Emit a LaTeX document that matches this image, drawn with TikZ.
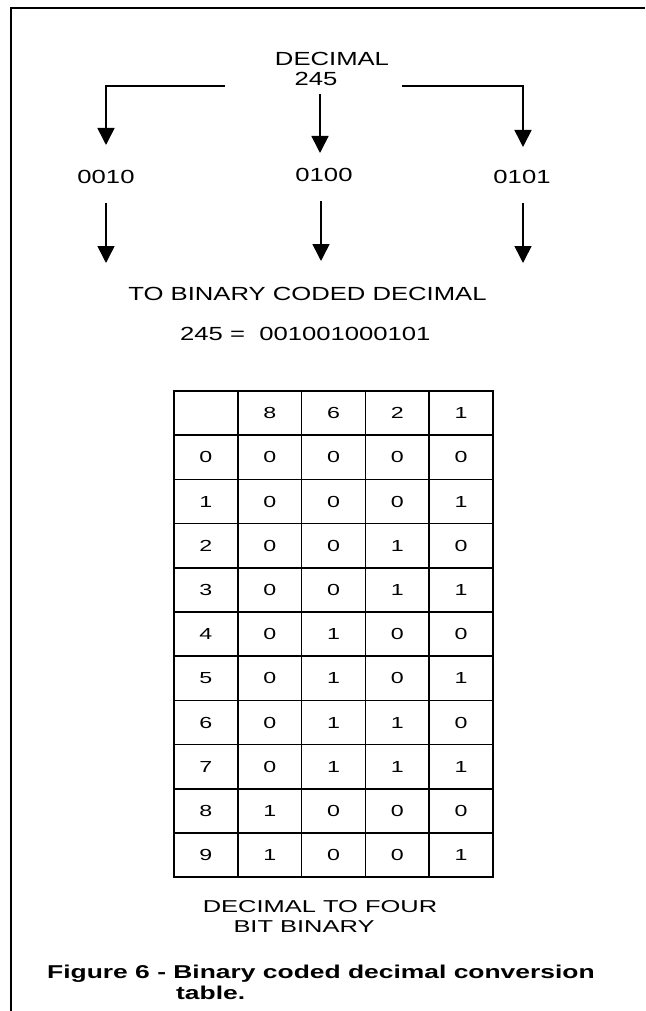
\documentclass[tikz,border=0pt]{standalone}
\usepackage{fontspec}
\setmainfont{Liberation Sans}
\newfontfamily\labfont[FakeStretch=1.35]{Liberation Sans}
\newfontfamily\subfont[FakeStretch=1.48]{Liberation Sans}
\newfontfamily\tabfont[FakeStretch=1.45]{Liberation Sans}
\newfontfamily\capfont[FakeStretch=1.42]{Liberation Sans}
\usetikzlibrary{arrows.meta}
\tikzset{
  lab/.style={inner sep=0pt, font=\labfont\fontsize{19}{22}\selectfont},
  sublab/.style={inner sep=0pt, font=\subfont\fontsize{17.2}{20}\selectfont},
  cell/.style={inner sep=0pt, font=\tabfont\fontsize{16}{18}\selectfont},
  capt/.style={inner sep=0pt, anchor=base west, font=\capfont\bfseries\fontsize{18.6}{21}\selectfont},
  conn/.style={line width=1.6pt, -{Triangle[length=17pt,width=17pt]}},
  gridline/.style={line width=1.6pt},
  border/.style={line width=2.4pt},
  frame/.style={line width=2pt},
}
\begin{document}
\begin{tikzpicture}[x=1pt,y=-1pt]
\useasboundingbox (0,0) rectangle (645,1011);
\fill[white] (0,0) rectangle (645,1011);
% page frame
\draw[frame] (11,1011) -- (11,8) -- (645,8);

% top labels
\node[lab] (dec) at (332,59) {DECIMAL};
\node[lab] (num) at (316,79) {245};
\node[lab] (b1) at (106,176.5) {0010};
\node[lab] (b2) at (324,175) {0100};
\node[lab] (b3) at (522,176.5) {0101};
\node[lab] (tobcd) at (307.5,294) {TO BINARY CODED DECIMAL};
\node[lab, anchor=west] (eq) at (180,334) {245 = \ 001001000101};

% connectors
\coordinate (ls) at (225,86);
\coordinate (lc) at (106,86);
\coordinate (lt) at (106,145);
\coordinate (rs) at (402,86);
\coordinate (rc) at (523,86);
\coordinate (rt) at (523,147);
\coordinate (cs) at (320,94);
\coordinate (ct) at (320,153);
\draw[conn] (ls) -- (lc) -- (lt);
\draw[conn] (rs) -- (rc) -- (rt);
\draw[conn] (cs) -- (ct);

\coordinate (l2s) at (106,203);
\coordinate (l2t) at (106,263);
\coordinate (c2s) at (321,201);
\coordinate (c2t) at (321,261);
\coordinate (r2s) at (523,203);
\coordinate (r2t) at (523,263);
\draw[conn] (l2s) -- (l2t);
\draw[conn] (c2s) -- (c2t);
\draw[conn] (r2s) -- (r2t);

% table
\def\tx{174}\def\ty{391}\def\cw{63.8}\def\rh{44.2}
\foreach \i in {1,...,4} {
  \draw[gridline] (\tx+\i*\cw,\ty) -- (\tx+\i*\cw,\ty+11*\rh);
}
\foreach \j in {1,...,10} {
  \draw[gridline] (\tx,\ty+\j*\rh) -- (\tx+5*\cw,\ty+\j*\rh);
}
\draw[border] (\tx,\ty) rectangle (\tx+5*\cw,\ty+11*\rh);

% header
\foreach \v [count=\c from 1] in {8,6,2,1} {
  \node[cell] (h-\c) at (\tx+\c*\cw+0.5*\cw,\ty+0.5*\rh) {\v};
}
% rows
\foreach \r/\a/\b/\cc/\d in {0/0/0/0/0,1/0/0/0/1,2/0/0/1/0,3/0/0/1/1,4/0/1/0/0,5/0/1/0/1,6/0/1/1/0,7/0/1/1/1,8/1/0/0/0,9/1/0/0/1} {
  \node[cell] (r\r-0) at (\tx+0.5*\cw,\ty+\r*\rh+1.5*\rh) {\r};
  \node[cell] (r\r-1) at (\tx+1.5*\cw,\ty+\r*\rh+1.5*\rh) {\a};
  \node[cell] (r\r-2) at (\tx+2.5*\cw,\ty+\r*\rh+1.5*\rh) {\b};
  \node[cell] (r\r-3) at (\tx+3.5*\cw,\ty+\r*\rh+1.5*\rh) {\cc};
  \node[cell] (r\r-4) at (\tx+4.5*\cw,\ty+\r*\rh+1.5*\rh) {\d};
}

% table caption
\node[sublab] (t1) at (320,907) {DECIMAL TO FOUR};
\node[sublab] (t2) at (304,927) {BIT BINARY};

% figure caption
\node[capt] (fig1) at (47,978) {Figure 6 - Binary coded decimal conversion};
\node[capt] (fig2) at (176,999) {table.};
\end{tikzpicture}
\end{document}
